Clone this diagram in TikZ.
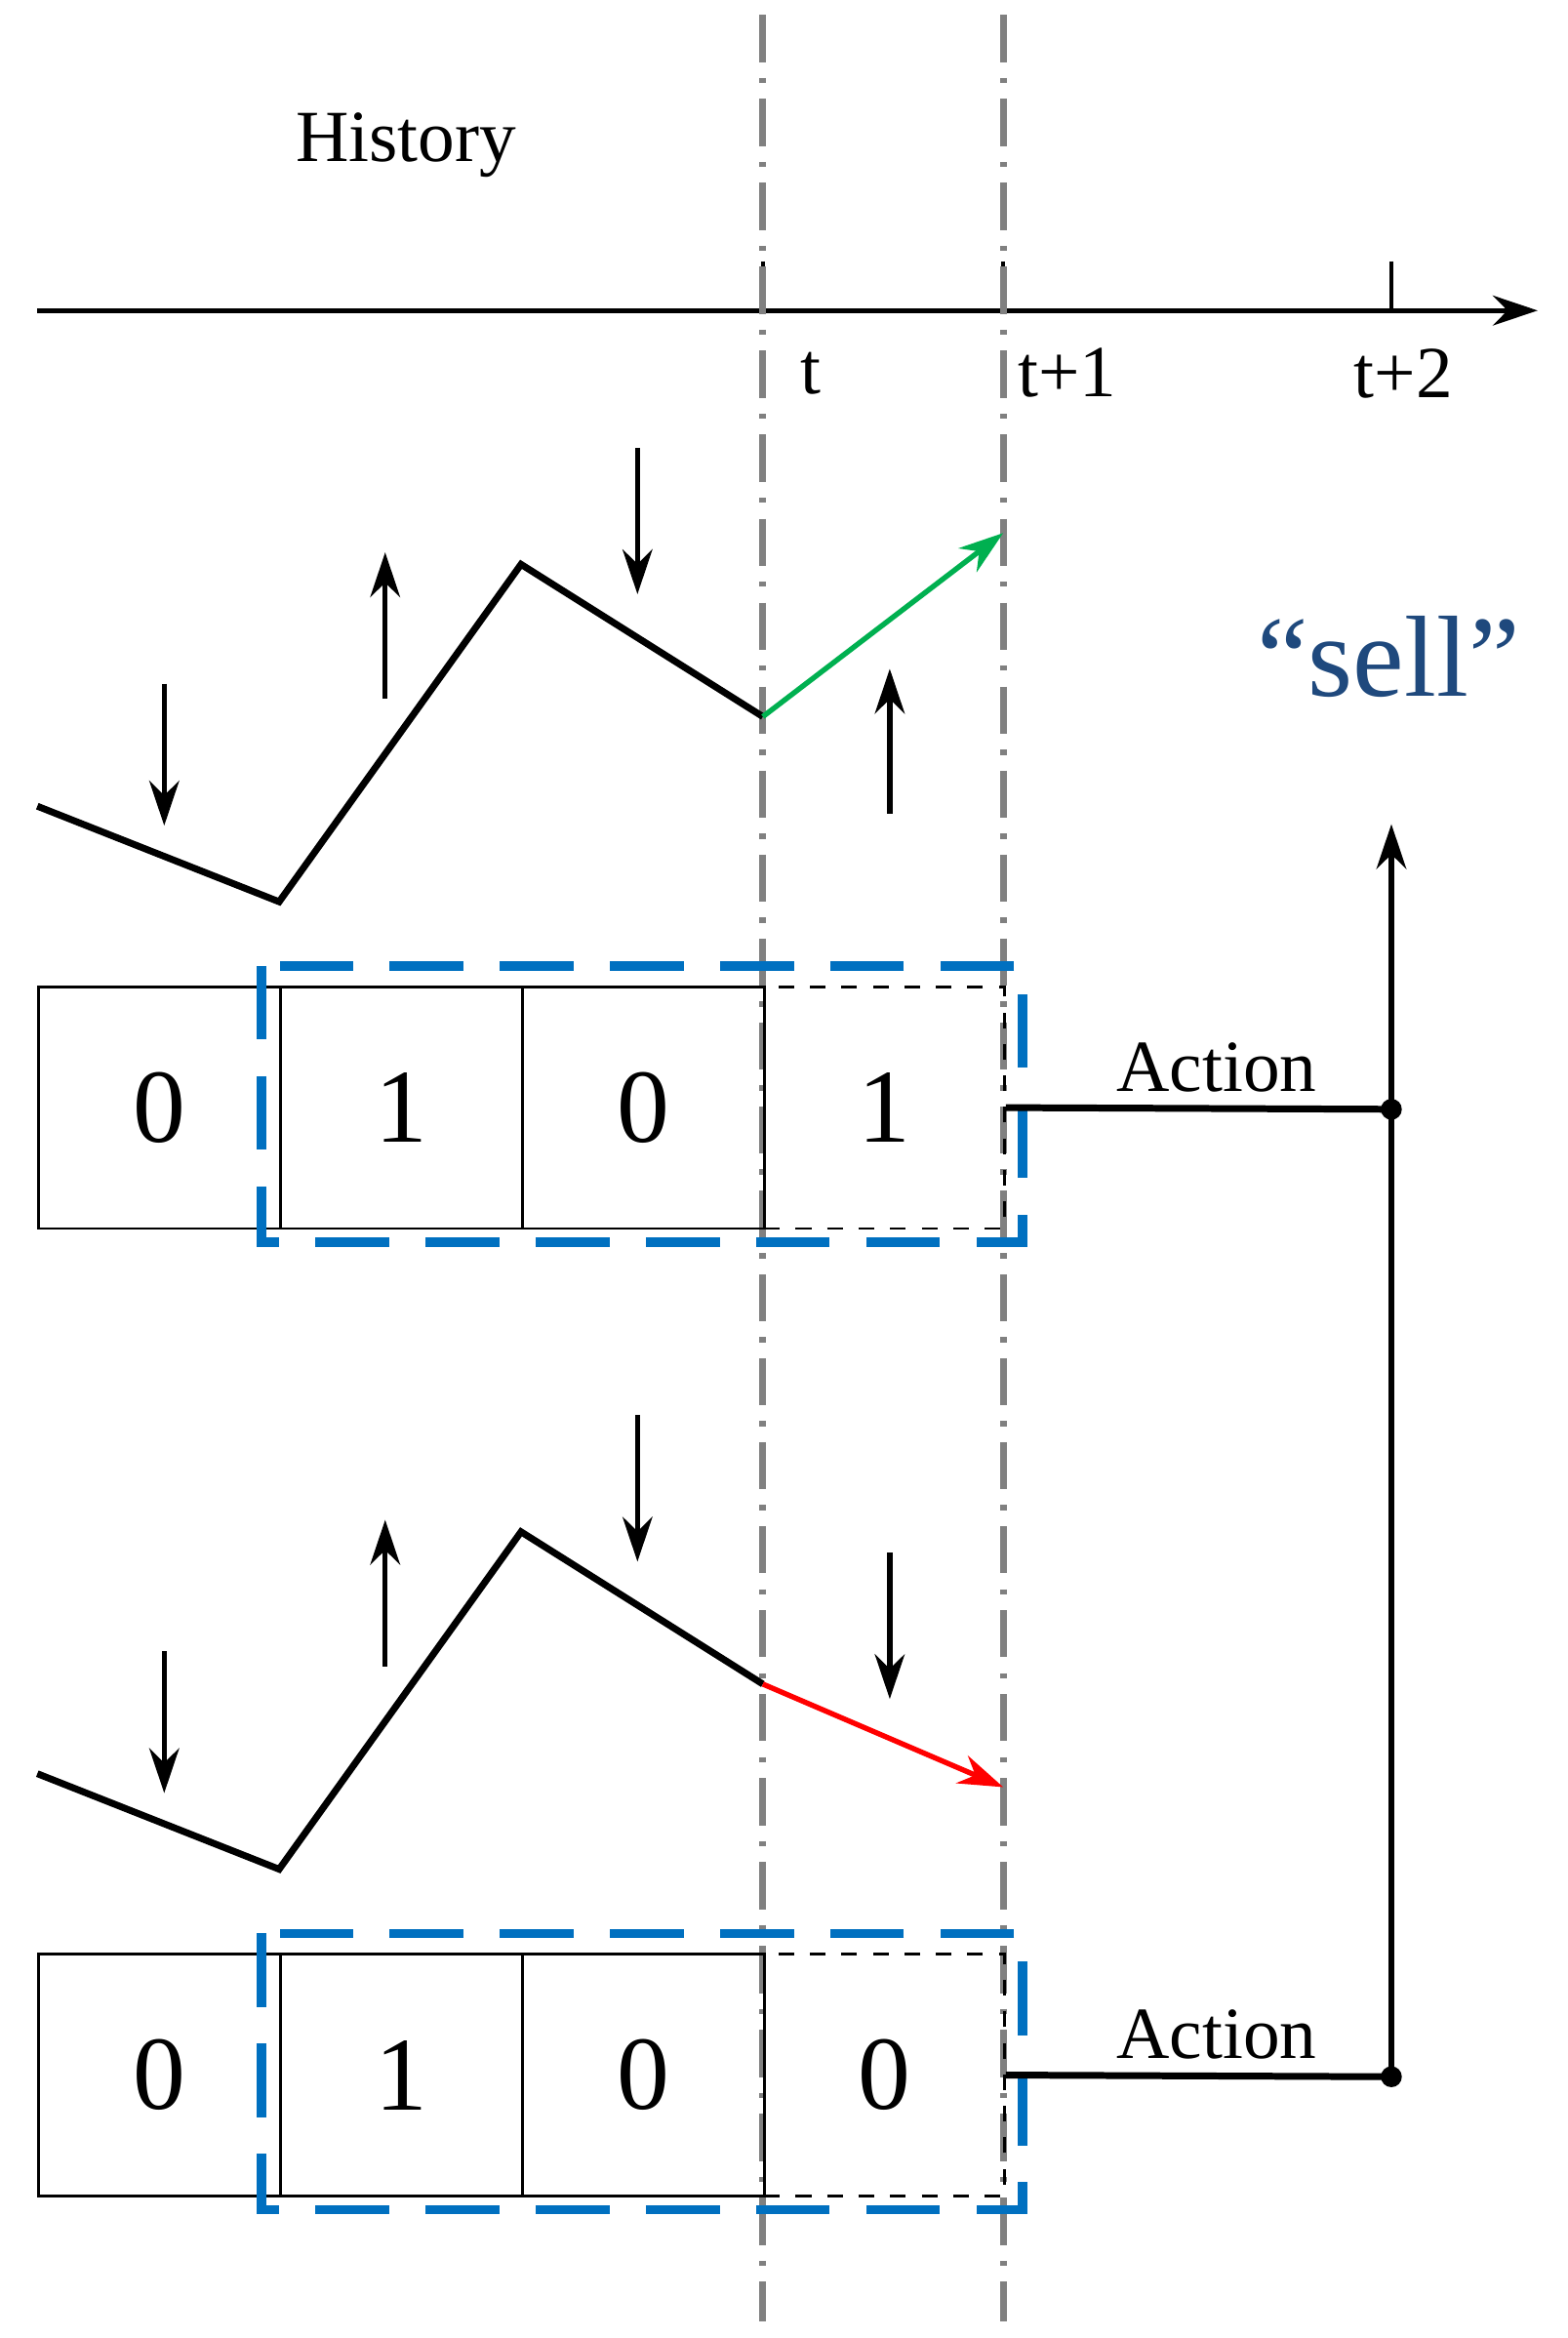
\documentclass[tikz,border=0pt]{standalone}
\usepackage{fontspec}
\setmainfont{Liberation Serif}
\usetikzlibrary{calc,arrows.meta}
\definecolor{seqblue}{RGB}{0,112,192}
\definecolor{sellblue}{RGB}{31,73,125}
\definecolor{upgreen}{RGB}{0,176,80}
\begin{document}
\begin{tikzpicture}[x=1mm,y=-1mm,
    arr/.style={-{Stealth[length=3mm,width=2mm]},line width=1pt},
    cell/.style={draw,line width=0.5pt},
    dig/.style={font=\fontsize{20}{22}\selectfont},
    lab/.style={font=\fontsize{14}{16}\selectfont}]
  \useasboundingbox (0,0) rectangle (105,156.6);
  % time axis
  \coordinate(O) at (2.5,20.8);
  \coordinate(E) at (103,20.8);
  \draw[arr](O)--(E);
  \foreach \x in {51.1,67.2,93.2} \draw[line width=0.8pt](\x,17.5)--(\x,20.8);
  \node[lab] (hist) at (27.2,9.7) {History};
  \node[lab] (t0) at (54.3,25) {t};
  \node[lab] (t1) at (71.5,25) {t+1};
  \node[lab] (t2) at (94,25) {t+2};
  % time guides
  \foreach \x in {51.1,67.2}
    \draw[gray,line width=1.3pt,dash pattern=on 9pt off 3pt on 1pt off 3pt](\x,1)--(\x,155.5);

  \foreach \dy/\last/\col/\ty/\b in {0/1/upgreen/35.7/1, 64.8/0/red/54.9/0}{
    \begin{scope}[shift={(0,\dy)}]
      \coordinate(A) at (2.5,54);
      \coordinate(B) at (18.7,60.4);
      \coordinate(C) at (34.9,37.8);
      \coordinate(D) at (51.1,48);
      \coordinate(F) at (67.2,\ty);
      \draw[line width=1.3pt](A)--(B)--(C)--(D);
      \draw[arr,\col](D)--(F);
      \draw[arr](11,45.8)--(11,55.3);
      \draw[arr](25.8,46.8)--(25.8,37);
      \draw[arr](42.7,30)--(42.7,39.8);
      \ifnum\b=1
        \draw[arr](59.6,54.5)--(59.6,44.8);
      \else
        \draw[arr](59.6,39.2)--(59.6,49);
      \fi
      % cells
      \foreach \x/\v [count=\i] in {2.5/0,18.7/1,34.9/0}{
        \node[cell,minimum width=16.2mm,minimum height=16.2mm,anchor=north west,dig] (c\i) at (\x,66) {\v};
      }
      \node[draw,dashed,line width=0.5pt,minimum width=16.1mm,minimum height=16.2mm,anchor=north west,dig] (c4) at (51.1,66) {\last};
      \draw[seqblue,line width=1.8pt,dash pattern=on 14pt off 7pt](17.5,64.7) rectangle (68.5,83.2);
      \coordinate(J) at (93.2,74.3);
      \draw[line width=1.3pt](c4.east)--(J);
      \fill(J) circle (0.7);
      \node[lab] (act) at (81.5,71.5) {Action};
    \end{scope}
  }
  \draw[arr](93.2,139.1)--(93.2,55.2);
  \node[sellblue,font=\fontsize{22}{24}\selectfont] (sell) at (93,44) {“sell”};
\end{tikzpicture}
\end{document}
